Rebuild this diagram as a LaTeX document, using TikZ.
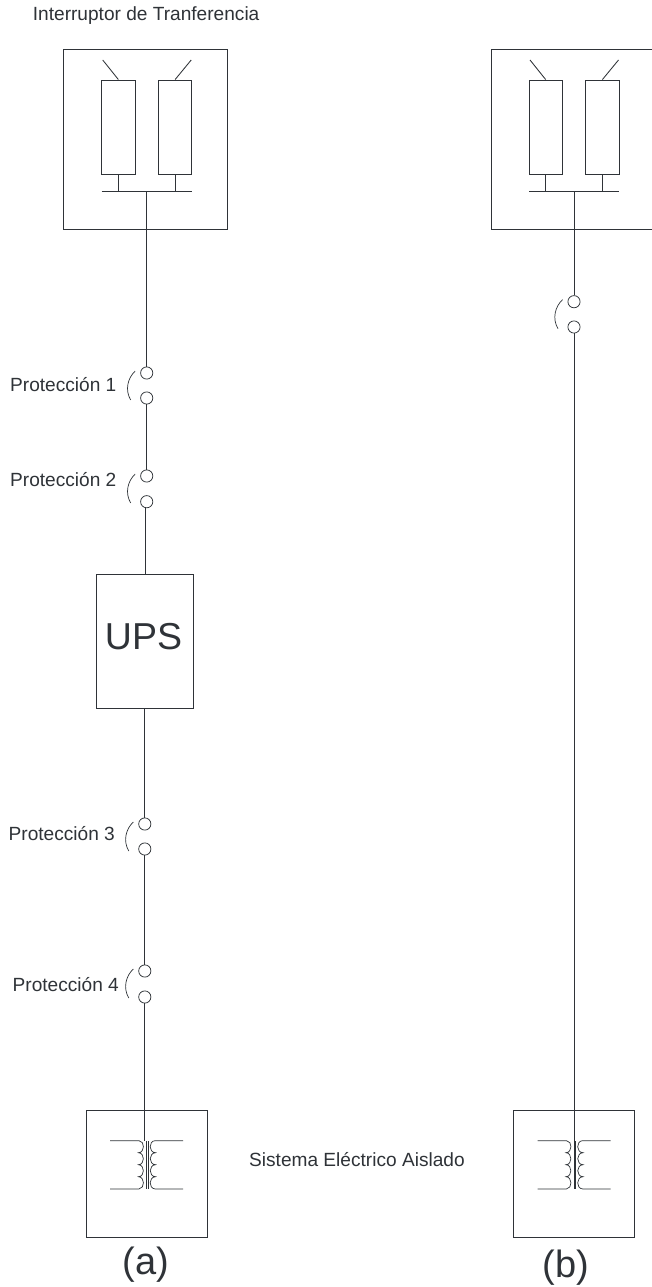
\documentclass[tikz,border=0pt]{standalone}
\usepackage{fontspec}
\setmainfont{Liberation Sans}
\usetikzlibrary{calc}
\definecolor{ink}{HTML}{2F3338}
\tikzset{
  wire/.style={draw=ink,line width=0.85pt},
  term/.style={circle,draw=ink,line width=0.75pt,minimum size=12.2pt,inner sep=0pt,fill=white},
  boxed/.style={rectangle,draw=ink,line width=0.85pt,inner sep=0pt,fill=white},
  lbl/.style={text=ink,font=\fontsize{19.1}{22}\selectfont,inner sep=0pt,anchor=base west},
  big/.style={text=ink,font=\fontsize{38}{42}\selectfont,inner sep=0pt,anchor=base},
}
% switch: #1 name, #2 x, #3 y of upper terminal, #4 y of lower terminal
\newcommand{\swt}[4]{%
  \node[term] (#1a) at (#2,#3) {};
  \node[term] (#1b) at (#2,#4) {};
  \draw[wire,line width=0.7pt] ($(#1a)+(-11.5,-2)$) .. controls ($(#1a)+(-19,5)$) and ($(#1a)+(-22,17)$) .. ($(#1a)+(-16,27)$);
}
% transfer switch: #1 name, #2 x of left edge of the outer box, #3 right edge
\newcommand{\tsw}[3]{%
  \node[boxed,minimum width=#3-#2,minimum height=180.5] (#1box) at ({(#2+#3)/2},139.25) {};
  \node[boxed,minimum width=33.4,minimum height=94.5] (#1l) at ({#2+54.7},127.25) {};
  \node[boxed,minimum width=33.4,minimum height=94.5] (#1r) at ({#2+111.4},127.25) {};
  \coordinate (#1bl) at ({#2+38},191);
  \coordinate (#1br) at ({#2+128},191);
  \coordinate (#1tapl) at ({#2+54.7},191);
  \coordinate (#1tapr) at ({#2+111.4},191);
  \coordinate (#1tap) at ({#2+83},191);
  \coordinate (#1al) at ({#2+39},60);
  \coordinate (#1ar) at ({#2+127.5},60);
  \draw[wire] (#1bl) -- (#1br);
  \draw[wire] (#1l.south) -- (#1tapl);
  \draw[wire] (#1r.south) -- (#1tapr);
  \draw[wire] (#1al) -- (#1l.north);
  \draw[wire] (#1ar) -- (#1r.north);
}
% isolation transformer box: #1 name, #2 x offset, #3 feed x
\newcommand{\xfm}[3]{%
  \node[boxed,minimum width=121.3,minimum height=127.7] (#1box) at ({#2+146.65},1173.85) {};
  \coordinate (#1in) at (#3,1140.5);
  \begin{scope}[xshift=#2]
    \draw[wire,line width=0.7pt] (110,1140.7) -- (139,1140.7)
      .. controls (145,1141) and (145,1152.5) .. (138.5,1152.7)
      .. controls (145,1153) and (145,1164.5) .. (138.5,1164.7)
      .. controls (145,1165) and (145,1176.5) .. (138.5,1176.7)
      .. controls (145,1177) and (145,1188.5) .. (139,1188.9) -- (110,1188.9);
    \draw[wire,line width=0.7pt] (183,1140.7) -- (155,1140.7)
      .. controls (148.5,1141) and (148.5,1152.5) .. (155.5,1152.7)
      .. controls (148.5,1153) and (148.5,1164.5) .. (155.5,1164.7)
      .. controls (148.5,1165) and (148.5,1176.5) .. (155.5,1176.7)
      .. controls (148.5,1177) and (148.5,1188.5) .. (155,1188.9) -- (183,1188.9);
    \draw[wire,line width=0.4pt] (146.4,1141) -- (146.4,1189);
    \draw[wire,line width=0.4pt] (147.7,1141) -- (147.7,1189);
  \end{scope}
}
\begin{document}
\begin{tikzpicture}[x=1pt,y=-1pt]
\useasboundingbox (0,0) rectangle (651,1287);
\fill[white] (0,0) rectangle (651,1287);

% ---- (a) ----
\tsw{A}{63.7}{227}
\swt{p1}{146.7}{373}{398}
\swt{p2}{146.7}{476}{501.7}
\node[boxed,minimum width=96.6,minimum height=134.6] (ups) at (145,641.4) {};
\node[big,anchor=base,font=\fontsize{37.5}{42}\selectfont] (upst) at (143.5,649) {UPS};
\swt{p3}{144.8}{824}{849}
\swt{p4}{144.8}{971}{997}
\xfm{TA}{0}{144.8}
\coordinate (upsIn) at (145.9,574.1);

\draw[wire] (Atap) -- (p1a.north);
\draw[wire] (p1b.south) -- (p2a.north);
\draw[wire] (p2b.south -| upsIn) -- (upsIn);
\draw[wire] (ups.south -| p3a) -- (p3a.north);
\draw[wire] (p3b.south) -- (p4a.north);
\draw[wire] (p4b.south) -- (TAin);

% ---- (b) ----
\tsw{B}{491}{654}
\swt{q}{574}{301.7}{327}
\xfm{TB}{427.5}{574}
\draw[wire] (Btap) -- (qa.north);
\draw[wire] (qb.south) -- (TBin);

% ---- labels ----
\node[lbl] (t0) at (32.7,21) {Interruptor de Tranferencia};
\node[lbl] (t1) at (10,391.7) {Protección 1};
\node[lbl] (t2) at (10,486.7) {Protección 2};
\node[lbl] (t3) at (8.5,840) {Protección 3};
\node[lbl] (t4) at (12.5,991.5) {Protección 4};
\node[lbl] (t5) at (249,1166.7) {Sistema Eléctrico Aislado};
\node[big] (ca) at (146,1274.5) {(a)};
\node[big] (cb) at (566,1277) {(b)};
\end{tikzpicture}
\end{document}
